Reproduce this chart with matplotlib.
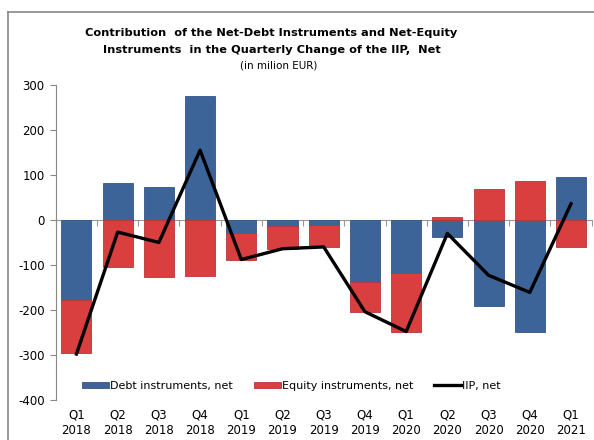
import numpy as np
import matplotlib
matplotlib.use("Agg")
import matplotlib.pyplot as plt
from matplotlib.lines import Line2D

plt.rcParams["axes.unicode_minus"] = False

quarters = ["Q1\n2018", "Q2\n2018", "Q3\n2018", "Q4\n2018",
            "Q1\n2019", "Q2\n2019", "Q3\n2019", "Q4\n2019",
            "Q1\n2020", "Q2\n2020", "Q3\n2020", "Q4\n2020",
            "Q1\n2021"]
debt = [-179, 81, 74, 276, -30, -13, -11, -138, -118, -37, -191, -248, 96]
equity = [-117, -105, -126, -124, -58, -51, -50, -66, -130, 7, 68, 87, -60]
iip = [-298, -27, -50, 155, -88, -64, -60, -204, -248, -30, -123, -161, 36]

blue = "#3d6499"
red = "#d83f3e"

x = np.arange(len(quarters))
debt_a = np.array(debt)
eq_a = np.array(equity)
eq_bottom = np.where(np.sign(eq_a) == np.sign(debt_a), debt_a, 0)

fig = plt.figure(figsize=(5.94, 4.40), dpi=100)
ax = fig.add_axes([0.094, 0.091, 0.902, 0.716])

b1 = ax.bar(x, debt, width=0.73, color=blue, edgecolor="#34568a", linewidth=0.6,
            label="Debt instruments, net", zorder=2)
b2 = ax.bar(x, equity, width=0.73, bottom=eq_bottom, color=red, edgecolor="#b83636",
            linewidth=0.6, label="Equity instruments, net", zorder=2)
l1, = ax.plot(x, iip, color="black", linewidth=2.4, label="IIP, net", zorder=3)

ax.set_xlim(-0.5, len(quarters) - 0.5)
ax.set_ylim(-400, 300)
ax.set_yticks([-400, -300, -200, -100, 0, 100, 200, 300])
ax.tick_params(axis="y", direction="out", length=4, color="#888888",
               labelsize=8.5, pad=4)

for s in ["top", "right"]:
    ax.spines[s].set_visible(False)
ax.spines["left"].set_color("#888888")
ax.spines["bottom"].set_position(("data", 0))
ax.spines["bottom"].set_color("#999999")
ax.spines["bottom"].set_zorder(1)
ax.set_xticks(np.arange(len(quarters) + 1) - 0.5)
ax.set_xticklabels([])
ax.tick_params(axis="x", direction="out", length=4, color="#999999")

sec = ax.secondary_xaxis(0)
sec.set_xticks(x)
sec.set_xticklabels(quarters, fontsize=8.5, linespacing=1.25)
sec.tick_params(length=0, pad=6)
sec.spines["bottom"].set_visible(False)

ax.legend([b1, b2, l1], ["Debt instruments, net", "Equity instruments, net", "IIP, net"],
          loc="center", bbox_to_anchor=(0.44, 0.045), ncol=3, frameon=False,
          fontsize=8, handlelength=2.4, handleheight=0.5, columnspacing=1.9,
          handletextpad=0.1)

fig.text(0.457, 0.925, "Contribution  of the Net-Debt Instruments and Net-Equity",
         ha="center", va="center", fontsize=8.2, fontweight="bold")
fig.text(0.457, 0.886, "Instruments  in the Quarterly Change of the IIP,  Net",
         ha="center", va="center", fontsize=8.2, fontweight="bold")
fig.text(0.469, 0.850, "(in milion EUR)", ha="center", va="center", fontsize=7.5)

fig.add_artist(Line2D([8 / 594, 8 / 594], [0, 1 - 12 / 440], color="#888888",
                      linewidth=1.2, transform=fig.transFigure))
fig.add_artist(Line2D([8 / 594, 1], [1 - 12 / 440, 1 - 12 / 440], color="#888888",
                      linewidth=1.2, transform=fig.transFigure))

fig.savefig("out.png", dpi=100)
